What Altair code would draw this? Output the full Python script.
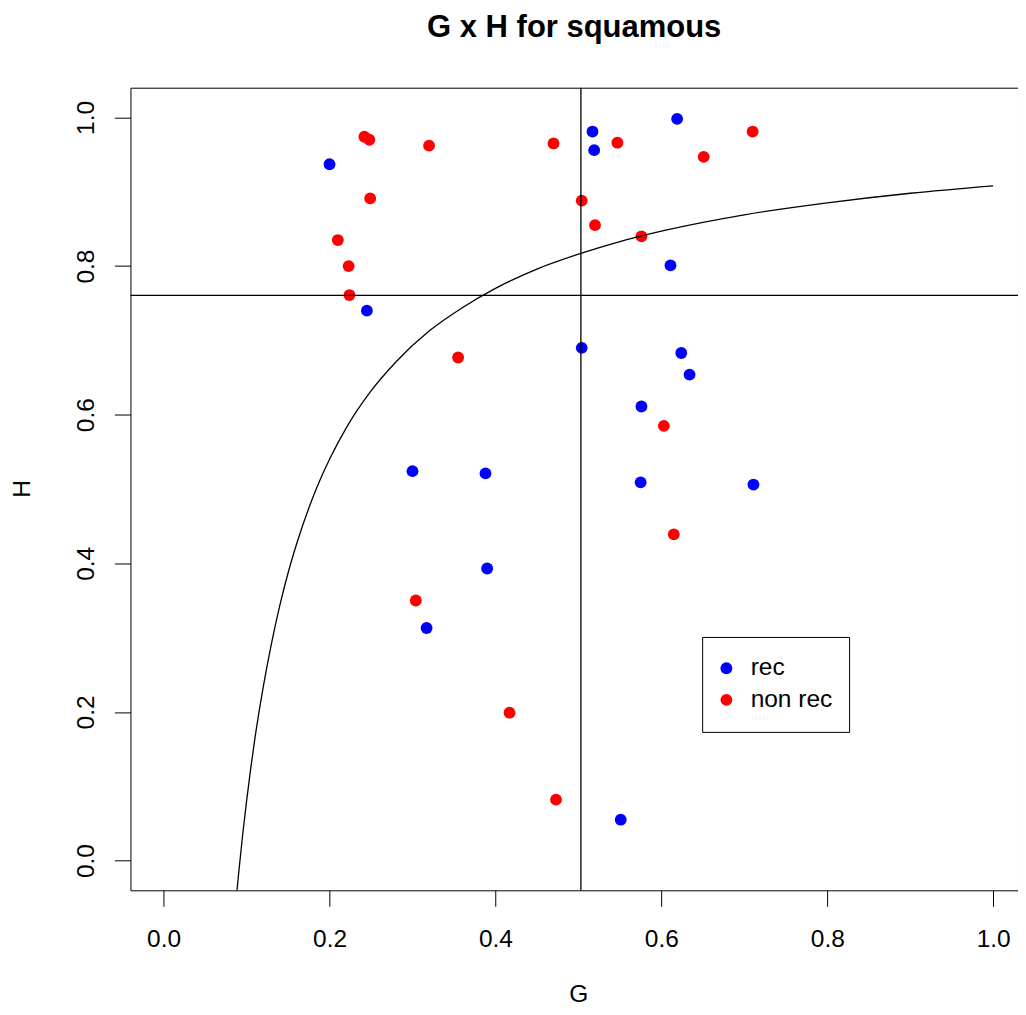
import altair as alt
import pandas as pd

# ---- data ----
groups = ["rec", "non rec"]
colors = ["#0000FF", "#FF0000"]

rec_G = [0.200, 0.517, 0.519, 0.619, 0.611, 0.245, 0.504, 0.624, 0.634, 0.576,
         0.300, 0.388, 0.575, 0.711, 0.390, 0.317, 0.551]
rec_H = [0.937, 0.981, 0.956, 0.998, 0.801, 0.740, 0.690, 0.683, 0.654, 0.611,
         0.524, 0.521, 0.509, 0.506, 0.393, 0.313, 0.055]

nonrec_G = [0.242, 0.248, 0.320, 0.470, 0.547, 0.651, 0.710, 0.249, 0.504, 0.520,
            0.210, 0.576, 0.223, 0.224, 0.355, 0.603, 0.615, 0.304, 0.417, 0.473]
nonrec_H = [0.974, 0.970, 0.962, 0.965, 0.966, 0.947, 0.981, 0.891, 0.888, 0.855,
            0.835, 0.840, 0.800, 0.761, 0.677, 0.585, 0.439, 0.350, 0.199, 0.082]

curve_G = [0.0885, 0.09, 0.095, 0.10, 0.105, 0.11, 0.12, 0.13, 0.14, 0.15, 0.16,
           0.18, 0.20, 0.22, 0.25, 0.28, 0.32, 0.36, 0.40, 0.45, 0.50, 0.55,
           0.60, 0.70, 0.80, 0.90, 1.00]
curve_H = [-0.040, -0.022, 0.032, 0.080, 0.124, 0.164, 0.233, 0.292, 0.343, 0.387,
           0.425, 0.489, 0.540, 0.582, 0.632, 0.671, 0.7125, 0.744, 0.770, 0.796,
           0.816, 0.833, 0.847, 0.869, 0.885, 0.898, 0.908]

vline_G = [0.503]
hline_H = [0.7606]

x_ticks = [0.0, 0.2, 0.4, 0.6, 0.8, 1.0]
y_ticks = [0.0, 0.2, 0.4, 0.6, 0.8, 1.0]

FONT = "Liberation Sans"

points = pd.DataFrame({
    "G": rec_G + nonrec_G,
    "H": rec_H + nonrec_H,
    "group": [groups[0]] * len(rec_G) + [groups[1]] * len(nonrec_G),
})
curve = pd.DataFrame({"G": curve_G, "H": curve_H, "i": list(range(len(curve_G)))})
vline = pd.DataFrame({"G": vline_G})
hline = pd.DataFrame({"H": hline_H})

x_scale = alt.Scale(domain=[-0.04, 1.0299], nice=False, zero=False)
y_scale = alt.Scale(domain=[-0.04, 1.04], nice=False, zero=False)

x_axis = alt.Axis(
    title="G", values=x_ticks, format=".1f", grid=False, domain=False,
    tickSize=16, tickColor="black", tickWidth=1,
    labelFont=FONT, labelFontSize=24.5, labelColor="black",
    labelBaseline="alphabetic", labelAlign="center", labelPadding=40.5,
    labelFlush=False, labelOverlap=False,
    titleFont=FONT, titleFontSize=24.5, titleFontWeight="normal", titleColor="black",
    titleBaseline="alphabetic", titleAlign="center", titleX=448, titleY=111.5,
)
y_axis = alt.Axis(
    title="H", values=y_ticks, format=".1f", grid=False, domain=False,
    tickSize=16, tickColor="black", tickWidth=1,
    labelFont=FONT, labelFontSize=24.5, labelColor="black",
    labelAngle=270, labelBaseline="alphabetic", labelAlign="center", labelPadding=20.5,
    labelFlush=False, labelOverlap=False,
    titleFont=FONT, titleFontSize=24.5, titleFontWeight="normal", titleColor="black",
    titleAngle=270, titleBaseline="alphabetic", titleAlign="center",
    titleX=-100.5, titleY=401,
)

legend = alt.Legend(
    title=None, orient="none", legendX=572, legendY=549.5, direction="vertical",
    strokeColor="black", fillColor="white", padding=16, cornerRadius=0,
    labelFont=FONT, labelFontSize=24.5, labelColor="black", labelOffset=12,
    labelLimit=400, symbolType="circle", symbolSize=140, symbolStrokeWidth=0,
    symbolOffset=-4, clipHeight=30.7, rowPadding=0.6,
)

pts = alt.Chart(points).mark_circle(size=140, opacity=1).encode(
    x=alt.X("G:Q", scale=x_scale, axis=x_axis),
    y=alt.Y("H:Q", scale=y_scale, axis=y_axis),
    color=alt.Color("group:N", scale=alt.Scale(domain=groups, range=colors), legend=legend),
)

curve_layer = alt.Chart(curve).mark_line(color="black", strokeWidth=1.3, clip=True,
                                         interpolate="monotone").encode(
    x=alt.X("G:Q", scale=x_scale, axis=x_axis),
    y=alt.Y("H:Q", scale=y_scale, axis=y_axis),
    order="i:Q",
)

vline_layer = alt.Chart(vline).mark_rule(color="black", strokeWidth=1.3).encode(
    x=alt.X("G:Q", scale=x_scale, axis=x_axis),
)
hline_layer = alt.Chart(hline).mark_rule(color="black", strokeWidth=1.3).encode(
    y=alt.Y("H:Q", scale=y_scale, axis=y_axis),
)

chart = alt.layer(pts, curve_layer, vline_layer, hline_layer).properties(
    width=888,
    height=803,
    background="white",
    padding={"left": 122.5, "top": 79.5, "right": 0, "bottom": 116.5},
    autosize=alt.AutoSizeParams(type="none"),
    title=alt.Title("G x H for squamous", font=FONT, fontSize=31, fontWeight="bold",
                    color="black", anchor="middle", frame="group",
                    baseline="alphabetic", offset=19),
).configure_view(stroke="black", strokeWidth=1)

chart.save("out.html", embed_options={"renderer": "svg", "actions": False})
